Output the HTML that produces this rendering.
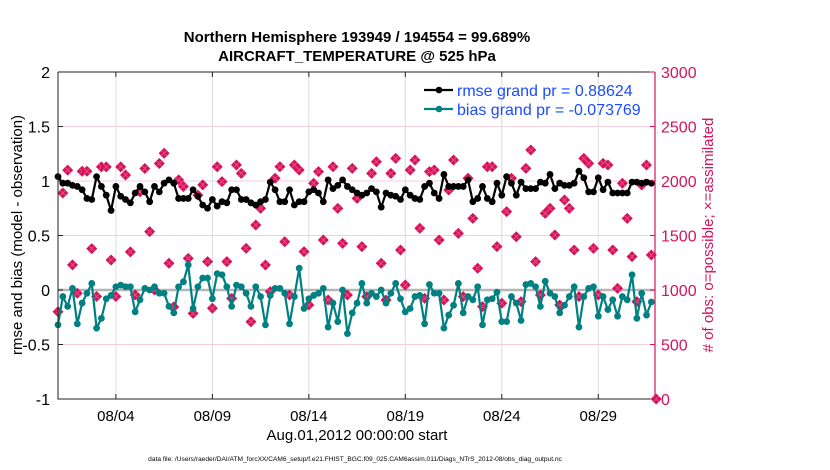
<!DOCTYPE html>
<html><head><meta charset="utf-8"><style>
body{margin:0;background:#fff;}
svg{display:block;font-family:"Liberation Sans",Arial,sans-serif;}
</style></head><body>
<svg id="chart" width="830" height="470" viewBox="0 0 830 470" xmlns="http://www.w3.org/2000/svg">
<text x="357" y="42" text-anchor="middle" font-size="15" font-weight="bold">Northern Hemisphere 193949 / 194554 = 99.689%</text>
<text x="357" y="61" text-anchor="middle" font-size="15" font-weight="bold">AIRCRAFT_TEMPERATURE @ 525 hPa</text>
<text transform="translate(22,235) rotate(-90)" text-anchor="middle" font-size="15">rmse and bias (model - observation)</text>
<text transform="translate(713,235) rotate(-90)" text-anchor="middle" font-size="15" fill="#d4145a"># of obs: o=possible; ×=assimilated</text>
<text x="357" y="440" text-anchor="middle" font-size="15">Aug.01,2012 00:00:00 start</text>
<text x="355" y="461" text-anchor="middle" font-size="6.6">data file: /Users/raeder/DAI/ATM_forcXX/CAM6_setup/f.e21.FHIST_BGC.f09_025.CAM6assim.011/Diags_NTrS_2012-08/obs_diag_output.nc</text>
<g id="plot"></g>
</svg>
<script>
const dayTicks=[3,8,13,18,23,28];
const dayTickLabels=["08/04","08/09","08/14","08/19","08/24","08/29"];
const leftTicks=[-1,-0.5,0,0.5,1,1.5,2];
const leftTickLabels=["-1","-0.5","0","0.5","1","1.5","2"];
const rightTicks=[0,500,1000,1500,2000,2500,3000];
const rmse=[1.04,0.98,0.98,0.96,0.95,0.92,0.84,0.83,1.04,0.95,0.87,0.73,0.95,0.86,0.83,0.80,0.89,0.95,0.90,0.81,0.95,0.90,0.98,1.01,0.98,0.84,0.84,0.84,0.92,0.86,0.78,
0.75,0.83,0.77,0.81,0.80,0.92,0.92,0.83,0.83,0.80,0.78,0.81,0.83,0.99,0.92,0.81,0.81,0.92,0.78,0.81,0.81,0.90,0.92,0.89,0.81,1.01,0.93,0.96,1.01,0.95,0.92,
0.89,0.87,0.89,0.93,0.90,0.76,0.89,0.87,0.86,0.83,0.92,0.87,0.84,0.83,0.95,0.98,0.89,0.84,1.06,0.95,0.95,0.95,0.95,1.01,0.81,0.84,0.95,0.84,0.81,0.98,0.87,1.04,0.98,0.87,0.99,0.93,0.93,0.93,0.99,0.98,1.06,0.93,0.98,0.96,0.96,0.98,1.09,1.03,0.90,0.90,1.03,0.92,0.99,0.89,0.89,0.89,0.89,0.99,0.99,0.98,0.99,0.98];
const bias=[-0.32,-0.06,-0.15,0.015,-0.31,-0.12,-0.03,0.06,-0.35,-0.26,-0.08,-0.05,0.03,0.045,0.03,0.03,-0.2,-0.09,0.015,0,0.03,-0.03,-0.03,-0.15,-0.21,0.03,0.075,0.23,-0.17,0.03,0.11,
0.11,-0.08,0.15,0.14,0.03,-0.15,0.045,0.03,-0.03,-0.15,0.03,-0.06,-0.32,-0.05,0.015,0.015,-0.03,-0.31,-0.06,0.2,-0.17,-0.08,-0.05,-0.03,0.015,-0.34,-0.12,-0.29,0,-0.4,-0.21,
-0.12,0.06,-0.12,-0.03,-0.06,0,-0.12,-0.03,0.06,-0.08,-0.2,-0.17,-0.06,-0.05,-0.31,0.05,-0.03,-0.03,-0.35,-0.23,-0.14,0.06,-0.21,-0.06,-0.09,0.03,-0.32,-0.09,-0.08,-0.02,-0.29,-0.29,-0.06,-0.12,-0.28,0.05,0.06,0.03,-0.15,0.08,-0.03,-0.06,-0.21,-0.14,-0.06,0.03,-0.34,-0.06,0.015,0.03,-0.24,-0.06,-0.18,-0.09,-0.24,-0.06,-0.09,0.14,-0.26,-0.03,-0.23,-0.11];
const nobs=[800,1890,2100,1230,970,2090,2090,1380,940,2130,2130,1275,940,2130,2055,1350,955,1900,2115,1535,1000,2160,2255,1245,845,2010,1950,1290,785,1870,1965,
1260,832,2131,1994,1260,923,2147,2070,1382,709,1596,1749,1229,985,2025,2131,1443,954,2147,2101,1352,862,1979,2086,1459,908,2131,1749,1428,954,2116,
1841,1398,939,2070,2177,1245,908,2070,2208,1367,1046,2101,2193,1566,923,2086,2101,1459,908,1917,2193,1520,939,2025,1657,1199,847,2131,2131,1398,878,1719,2025,1489,893,2116,2284,1260,954,1703,1749,1505,862,1826,1749,1367,939,2208,2162,1382,954,2162,2147,1367,1015,1979,1657,1306,893,1963,2147,1321,0];
const NS="http://www.w3.org/2000/svg";
const L=58,R=655,T=72,B=399,D0=0,D1=30.94;
const xs=d=>L+(d-D0)/(D1-D0)*(R-L);
const yl=v=>B-(v+1)/3*(B-T);
const yr=v=>B-v/3000*(B-T);
const g=document.getElementById('plot');
function mk(tag,attrs,parent){const e=document.createElementNS(NS,tag);for(const k in attrs)e.setAttribute(k,attrs[k]);(parent||g).appendChild(e);return e;}
rightTicks.forEach((t,i)=>{if(i>0&&i<rightTicks.length-1){const l=mk('line',{x1:L,x2:R,y1:yr(t),y2:yr(t),stroke:'#f6cfdc','stroke-width':1});

}});
dayTicks.forEach(d=>{const l=mk('line',{x1:xs(d),x2:xs(d),y1:T,y2:B,stroke:'#dcdcdc','stroke-width':1});

});
const z=mk('line',{x1:L,x2:R,y1:yl(0),y2:yl(0),stroke:'#b5b5b5','stroke-width':2.5});


const og=mk('g',{});


nobs.forEach((v,i)=>{const x=xs(i*0.25),y=yr(v);
const p=mk('path',{d:`M${x-5.5},${y}L${x},${y-5.5}L${x+5.5},${y}L${x},${y+5.5}Z`,fill:'#d6105a'},og);


const c=mk('path',{d:`M${x-3},${y-3}L${x+3},${y+3}M${x-3},${y+3}L${x+3},${y-3}`,stroke:'#e0507f','stroke-width':1},og);

});
function series(arr,color,name){const pts=arr.map((v,i)=>xs(i*0.25)+','+yl(v)).join(' ');
const sg=mk('g',{});


mk('polyline',{points:pts,fill:'none',stroke:color,'stroke-width':2.2},sg);
arr.forEach((v,i)=>{const c=mk('circle',{cx:xs(i*0.25),cy:yl(v),r:3.4,fill:color},sg);

});}
series(bias,'#008080','bias-series');
series(rmse,'#000000','rmse-series');
const ax=mk('path',{d:`M${L},${T}V${B}H${R}`,fill:'none',stroke:'#222','stroke-width':1});


mk('line',{x1:L,x2:R,y1:T,y2:T,stroke:'#222','stroke-width':1});
const ra=mk('line',{x1:R,x2:R,y1:T,y2:B,stroke:'#d4145a','stroke-width':1.2});


leftTicks.forEach((t,i)=>{mk('line',{x1:L,x2:L+5,y1:yl(t),y2:yl(t),stroke:'#222'});
const tx=mk('text',{x:L-8,y:yl(t)+6,'text-anchor':'end','font-size':16});tx.textContent=leftTickLabels[i];

});
rightTicks.forEach(t=>{mk('line',{x1:R-5,x2:R,y1:yr(t),y2:yr(t),stroke:'#d4145a'});
const tx=mk('text',{x:R+6,y:yr(t)+6,'font-size':16,fill:'#d4145a'});tx.textContent=t;

});
dayTicks.forEach((d,i)=>{mk('line',{x1:xs(d),x2:xs(d),y1:B,y2:B-5,stroke:'#222'});mk('line',{x1:xs(d),x2:xs(d),y1:T,y2:T+5,stroke:'#222'});
const tx=mk('text',{x:xs(d),y:B+22,'text-anchor':'middle','font-size':15});tx.textContent=dayTickLabels[i];

});
const lg=mk('g',{});


[['rmse grand pr = 0.88624','#000',90],['bias grand pr = -0.073769','#008080',109]].forEach(([t,c,y])=>{
mk('line',{x1:424,x2:453,y1:y,y2:y,stroke:c,'stroke-width':2.2},lg);
mk('circle',{cx:439,cy:y,r:3.3,fill:c},lg);
const tx=mk('text',{x:457,y:y+6,'font-size':16,fill:'#1a4cff'},lg);tx.textContent=t;

});
</script>
</body></html>
